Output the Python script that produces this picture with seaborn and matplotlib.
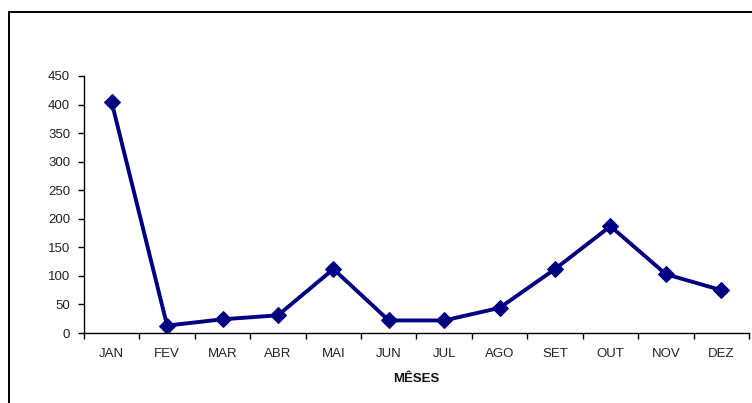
import matplotlib
matplotlib.use("Agg")
import matplotlib.pyplot as plt
import seaborn as sns
import pandas as pd
from matplotlib.patches import Rectangle
from matplotlib.ticker import FixedLocator

months = ["JAN", "FEV", "MAR", "ABR", "MAI", "JUN", "JUL", "AGO", "SET", "OUT", "NOV", "DEZ"]
values = [404, 13, 24, 31, 112, 22, 22, 44, 112, 187, 103, 75]
yticks = [0, 50, 100, 150, 200, 250, 300, 350, 400, 450]

sns.set_theme(style="white")
plt.rcParams['font.family'] = ['Liberation Sans', 'DejaVu Sans']

W, H = 752, 403
fig = plt.figure(figsize=(W / 100, H / 100), dpi=100)
ax = fig.add_axes([84 / W, 1 - 333 / H, (749 - 84) / W, (333 - 76) / H])

df = pd.DataFrame({"mes": months, "valor": values})
df["pos"] = range(len(months))
sns.lineplot(data=df, x="pos", y="valor", ax=ax, color="#000080", linewidth=2.8,
             marker="D", markersize=8.5, markeredgecolor="#000080", markerfacecolor="#000080")

ax.set_xlim(-0.5, len(months) - 0.5)
ax.set_ylim(0, 450)
ax.set_yticks(yticks)
ax.set_xticks(range(len(months)))
ax.set_xticklabels(months)
ax.xaxis.set_minor_locator(FixedLocator([i - 0.5 for i in range(len(months) + 1)]))
ax.tick_params(axis="x", which="major", length=0, pad=11, labelsize=9.5, colors="#222222")
ax.tick_params(axis="x", which="minor", length=4, width=1, direction="out", color="black", bottom=True)
ax.tick_params(axis="y", which="major", length=4, width=1, direction="out", color="black", left=True,
               pad=6, labelsize=9.5, labelcolor="#222222")
ax.set_ylabel("")
ax.set_xlabel("MÊSES", fontsize=9.5, fontweight="bold", labelpad=9, color="#111111")

for s in ["top", "right"]:
    ax.spines[s].set_visible(False)
for s in ["left", "bottom"]:
    ax.spines[s].set_color("black")
    ax.spines[s].set_linewidth(1)
ax.grid(False)

fig.patches.append(Rectangle((9 / W, -0.1), 1.2, 1.1 - 12.5 / H, transform=fig.transFigure,
                             fill=False, edgecolor="black", linewidth=1.4))

fig.savefig("out.png", dpi=100)
